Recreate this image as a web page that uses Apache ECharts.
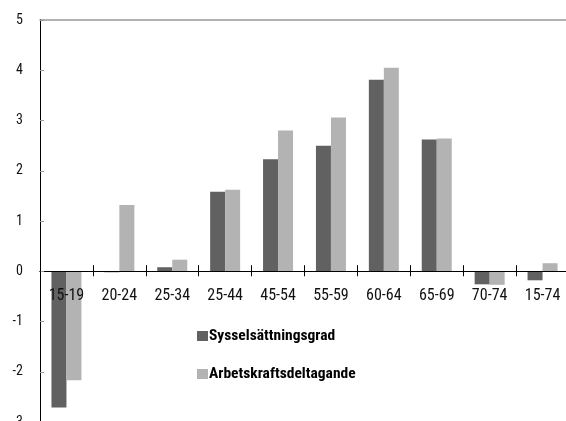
<!DOCTYPE html>
<html>
<head>
<meta charset="utf-8">
<script src="https://cdn.jsdelivr.net/npm/echarts@6/dist/echarts.min.js"></script>
<style>
  html, body { margin: 0; padding: 0; background: #fff; }
  #chart { width: 566px; height: 421px; }
</style>
</head>
<body>
<div id="chart"></div>
<script>
// Age groups on the category axis
const categories = ['15-19', '20-24', '25-34', '25-44', '45-54', '55-59', '60-64', '65-69', '70-74', '15-74'];

// Change in percentage points per age group
const sysselsattningsgrad = [-2.71, -0.02, 0.08, 1.58, 2.23, 2.50, 3.81, 2.62, -0.26, -0.18];
const arbetskraftsdeltagande = [-2.17, 1.32, 0.23, 1.62, 2.80, 3.06, 4.05, 2.64, -0.27, 0.16];

const seriesNames = ['Sysselsättningsgrad', 'Arbetskraftsdeltagande'];
const yTicks = { min: -3, max: 5, step: 1 };

const FONT = "'Roboto Condensed', 'DejaVu Sans Condensed', sans-serif";

const GRID = { left: 40, top: 20, width: 529, height: 402 };
// category labels sit just under the zero line rather than at the plot bottom
const pxPerUnit = GRID.height / (yTicks.max - yTicks.min);
const labelLift = (0 - yTicks.min) * pxPerUnit;

const chart = echarts.init(document.getElementById('chart'), null, { renderer: 'canvas' });

chart.setOption({
  animation: false,
  backgroundColor: '#ffffff',
  grid: Object.assign({ containLabel: false, outerBoundsMode: 'none' }, GRID),
  legend: {
    orient: 'vertical',
    left: 197,
    top: 328,
    padding: 0,
    itemWidth: 11,
    itemHeight: 10,
    itemGap: 22,
    icon: 'rect',
    data: seriesNames,
    textStyle: { fontFamily: FONT, fontWeight: 'bold', fontSize: 15.5, color: '#000', padding: [0, 0, 0, -4] }
  },
  xAxis: [
    {
      type: 'category',
      data: categories,
      position: 'bottom',
      z: 10,
      axisLine: { onZero: true, onZeroAxisIndex: 0, lineStyle: { color: '#000', width: 1 } },
      axisTick: { show: true, inside: false, length: 5, lineStyle: { color: '#000' } },
      axisLabel: { interval: 0, fontFamily: FONT, fontSize: 16, color: '#111', margin: 17 - labelLift },
      splitLine: { show: false }
    },
    {
      // same axis again, ticks pointing up so they cross the zero line
      type: 'category',
      data: categories,
      position: 'bottom',
      z: 10,
      axisLine: { onZero: true, onZeroAxisIndex: 0, lineStyle: { color: '#000', width: 1 } },
      axisTick: { show: true, inside: true, length: 6, lineStyle: { color: '#000' } },
      axisLabel: { show: false },
      splitLine: { show: false }
    },
    {
      // top border line
      type: 'category',
      data: categories,
      position: 'top',
      axisLine: { onZero: false, lineStyle: { color: '#999', width: 1.5 } },
      axisTick: { show: false },
      axisLabel: { show: false },
      splitLine: { show: false }
    }
  ],
  yAxis: {
    type: 'value',
    min: yTicks.min,
    max: yTicks.max,
    interval: yTicks.step,
    z: 10,
    axisLine: { show: true, lineStyle: { color: '#000', width: 1 } },
    axisTick: { show: true, inside: true, length: 4, lineStyle: { color: '#999' } },
    axisLabel: { fontFamily: FONT, fontSize: 14, color: '#111', margin: 17 },
    splitLine: { show: false }
  },
  series: [
    {
      name: seriesNames[0],
      type: 'bar',
      xAxisIndex: 0,
      data: sysselsattningsgrad,
      barWidth: 15,
      barGap: '0%',
      itemStyle: { color: '#616161' }
    },
    {
      name: seriesNames[1],
      type: 'bar',
      xAxisIndex: 0,
      data: arbetskraftsdeltagande,
      barWidth: 15,
      barGap: '0%',
      itemStyle: { color: '#b3b3b3' }
    }
  ]
});
</script>
</body>
</html>
